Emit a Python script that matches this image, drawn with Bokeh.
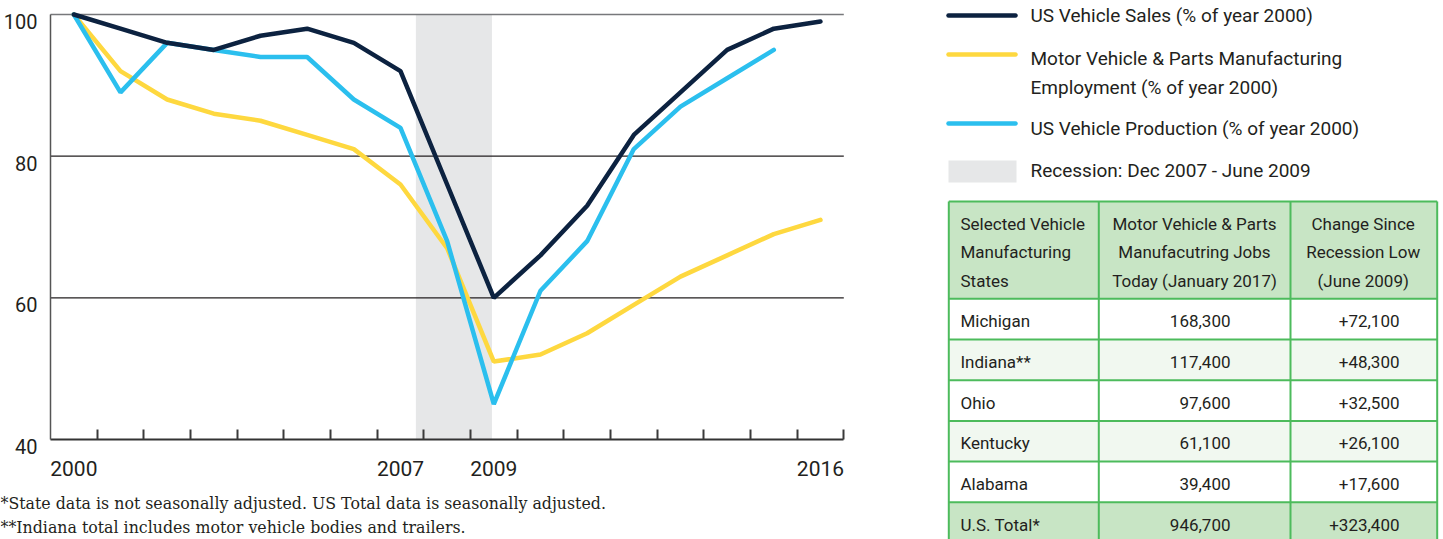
from bokeh.plotting import figure
from bokeh.models import (Range1d, FixedTicker, BoxAnnotation, Label, LinearAxis)
from bokeh.layouts import row
from bokeh.embed import file_html
from bokeh.resources import INLINE
from bokeh.core.properties import value

# ---------------- data ----------------
years = list(range(2000, 2017))
sales = [100, 98, 96, 95, 97, 98, 96, 92, 76, 60, 66, 73, 83, 89, 95, 98, 99]
employment = [100, 92, 88, 86, 85, 83, 81, 76, 67, 51, 52, 55, 59, 63, 66, 69, 71]
production_years = list(range(2000, 2016))
production = [100, 89, 96, 95, 94, 94, 88, 84, 68, 45, 61, 68, 81, 87, 91, 95]

x_tick_labels = [2000, 2007, 2009, 2016]
y_ticks = [40, 60, 80, 100]
recession_start = 2007.33   # Dec 2007 (year-centred axis)
recession_end = 2008.96     # June 2009

legend_labels = ["US Vehicle Sales (% of year 2000)",
                 "Motor Vehicle & Parts Manufacturing\nEmployment (% of year 2000)",
                 "US Vehicle Production (% of year 2000)",
                 "Recession: Dec 2007 - June 2009"]

table_header = [["Selected Vehicle", "Manufacturing", "States"],
                ["Motor Vehicle & Parts", "Manufacutring Jobs", "Today (January 2017)"],
                ["Change Since", "Recession Low", "(June 2009)"]]
states = ["Michigan", "Indiana**", "Ohio", "Kentucky", "Alabama", "U.S. Total*"]
jobs_2017 = [168300, 117400, 97600, 61100, 39400, 946700]
change_since_low = [72100, 48300, 32500, 26100, 17600, 323400]

footnotes = ["*State data is not seasonally adjusted. US Total data is seasonally adjusted.",
             "**Indiana total includes motor vehicle bodies and trailers."]

# ---------------- style ----------------
NAVY = "#0c2240"
YELLOW = "#fed83f"
BLUE = "#2bbfee"
SHADE = "#e6e7e8"
TXT = "#231f20"
GREEN_LINE = "#4dbb5c"
GREEN_HEAD = "#c8e5c5"
GREEN_TINT = "#f1f8f0"
SANS = "Roboto"
H = 539
W1 = 900
W2 = 543

# chart geometry (pixels)
PLOT_LEFT, PLOT_RIGHT = 50.0, 843.3
Y_TOP, Y_BOTTOM = 14.0, 439.0
sx = (PLOT_RIGHT - PLOT_LEFT) / len(years)          # px per year
sy = (Y_BOTTOM - Y_TOP) / (y_ticks[-1] - y_ticks[0])  # px per unit
x0 = years[0] - 0.5
x1 = years[-1] + 0.5
xr = Range1d(x0 - PLOT_LEFT / sx, x0 + (W1 - PLOT_LEFT) / sx)
yr = Range1d(y_ticks[0] - (H - Y_BOTTOM) / sy, y_ticks[-1] + Y_TOP / sy)

# ---------------- chart ----------------
p = figure(width=W1, height=H, x_range=xr, y_range=yr, output_backend="svg",
           toolbar_location=None, min_border=0, x_axis_type=None, y_axis_type=None,
           title=None)
p.outline_line_color = None
p.grid.visible = False
p.background_fill_color = "white"

p.add_layout(BoxAnnotation(left=recession_start, right=recession_end,
                           top=y_ticks[-1], bottom=y_ticks[0],
                           fill_color=SHADE, fill_alpha=1, line_color=None,
                           level="underlay"))
grid_y = y_ticks[1:3]
p.segment(x0=[x0] * len(grid_y), x1=[x1] * len(grid_y), y0=grid_y, y1=grid_y,
          line_color=TXT, line_width=1.2)
p.segment(x0=[x0], x1=[x1], y0=[y_ticks[-1]], y1=[y_ticks[-1]],
          line_color="#77787b", line_width=1.6)

p.line(years, employment, line_color=YELLOW, line_width=4.5, line_cap="round")
p.line(production_years, production, line_color=BLUE, line_width=4.5, line_cap="round")
p.line(years, sales, line_color=NAVY, line_width=4.5, line_cap="round")

xa = LinearAxis(fixed_location=y_ticks[0], bounds=(x0, x1),
                ticker=FixedTicker(ticks=x_tick_labels,
                                   minor_ticks=[y + 0.5 for y in years]))
xa.major_tick_in = 0
xa.major_tick_out = 0
xa.minor_tick_in = 10
xa.minor_tick_out = 0
xa.minor_tick_line_width = 2
xa.minor_tick_line_color = "#3a3a3a"
xa.axis_line_width = 2
xa.axis_line_color = "#333333"
xa.major_label_text_font = SANS
xa.major_label_text_font_size = "21px"
xa.major_label_text_color = TXT
xa.major_label_standoff = 21
p.add_layout(xa, "below")

# y spine
ya = LinearAxis(fixed_location=x0, bounds=(y_ticks[0], y_ticks[-1]),
                ticker=FixedTicker(ticks=[]))
ya.axis_line_color = "#555555"
ya.axis_line_width = 1.5
ya.major_tick_in = 0
ya.major_tick_out = 0
p.add_layout(ya, "left")

# y tick labels (set slightly below their gridlines as in the original)
label_shift = 7.0 / sy
p.extra_y_ranges = {"lab": Range1d(yr.start + label_shift, yr.end + label_shift)}
yl = LinearAxis(y_range_name="lab", fixed_location=x0,
                ticker=FixedTicker(ticks=y_ticks))
yl.axis_line_color = None
yl.major_tick_in = 0
yl.major_tick_out = 0
yl.major_label_standoff = 13
yl.major_label_text_font = SANS
yl.major_label_text_font_size = "20px"
yl.major_label_text_color = TXT
p.add_layout(yl, "left")

for i, fn in enumerate(footnotes):
    p.add_layout(Label(x=0, y=36 - 24 * i, x_units="screen", y_units="screen",
                       text=fn, text_font="DejaVu Serif", text_font_size="15.8px",
                       text_baseline="middle", text_color=TXT))

# ---------------- legend + table ----------------
q = figure(width=W2, height=H, x_range=Range1d(0, W2), y_range=Range1d(H, 0),
           output_backend="svg", toolbar_location=None, min_border=0,
           x_axis_type=None, y_axis_type=None, title=None)
q.outline_line_color = None
q.grid.visible = False

# legend
leg_y = [15, 54, 123]
q.segment(x0=[48] * 3, x1=[115] * 3, y0=leg_y, y1=leg_y,
          line_color=[NAVY, YELLOW, BLUE], line_width=4.5, line_cap="round")
q.quad(left=[48], right=[116], top=[160], bottom=[182], fill_color=SHADE, line_color=None)
leg_lines = []
for lab in legend_labels:
    leg_lines.extend(lab.split("\n"))
q.text(x=[130] * len(leg_lines), y=[15, 58, 87, 128, 170], text=leg_lines,
       text_font=value(SANS), text_font_size="19px", text_color=TXT,
       text_baseline="middle", text_align="left")

# table
cols = [48.3, 198.3, 390, 536.7]
head_top, head_bot = 201, 298.3
row_h = 40.7
n = len(states)
row_tops = [head_bot + i * row_h for i in range(n)]
row_fill = [("white" if i % 2 == 0 else GREEN_TINT) for i in range(n - 1)] + [GREEN_HEAD]
q.quad(left=[cols[0]], right=[cols[-1]], top=[head_top], bottom=[head_bot],
       fill_color=GREEN_HEAD, line_color=None)
q.quad(left=[cols[0]] * n, right=[cols[-1]] * n, top=row_tops,
       bottom=[t + row_h for t in row_tops], fill_color=row_fill, line_color=None)
hlines_y = [head_top, head_bot] + [t + row_h for t in row_tops]
q.segment(x0=[cols[0]] * len(hlines_y), x1=[cols[-1]] * len(hlines_y),
          y0=hlines_y, y1=hlines_y, line_color=GREEN_LINE, line_width=2)
q.segment(x0=cols, x1=cols, y0=[head_top] * 4, y1=[H + 20] * 4,
          line_color=GREEN_LINE, line_width=2)

hy = [223.3, 251.7, 280]
for j, (cx, al) in enumerate([(60, "left"), (294, "center"), (462.7, "center")]):
    q.text(x=[cx] * 3, y=hy, text=table_header[j], text_font=value(SANS),
           text_font_size="17px", text_color=TXT, text_baseline="middle", text_align=al)

ry = [t + 22.5 for t in row_tops]
q.text(x=[60] * n, y=ry, text=states, text_font=value(SANS), text_font_size="17px",
       text_color=TXT, text_baseline="middle", text_align="left")
q.text(x=[330] * n, y=ry, text=[f"{v:,}" for v in jobs_2017], text_font=value(SANS),
       text_font_size="17px", text_color=TXT, text_baseline="middle", text_align="right")
q.text(x=[499] * n, y=ry, text=[f"+{v:,}" for v in change_since_low], text_font=value(SANS),
       text_font_size="17px", text_color=TXT, text_baseline="middle", text_align="right")

layout = row(p, q)
open("out.html", "w").write(file_html(layout, INLINE))
